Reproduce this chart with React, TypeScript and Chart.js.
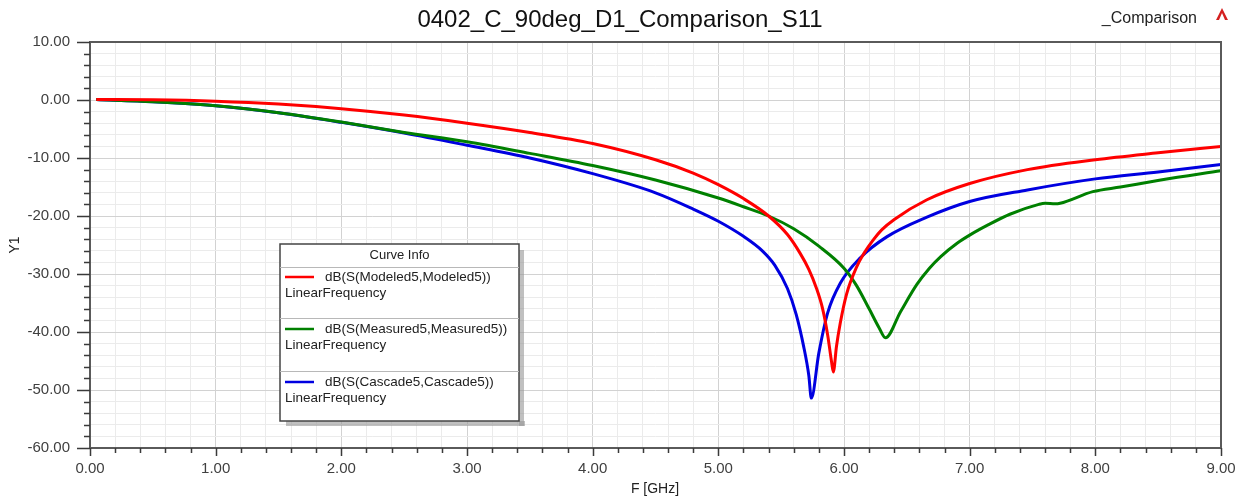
import React, { useEffect, useRef } from "react";
import { Chart, registerables } from "chart.js";

Chart.register(...registerables);

const chartTitle = "0402_C_90deg_D1_Comparison_S11";
const cornerLabel = "_Comparison";
const xAxisTitle = "F [GHz]";
const yAxisTitle = "Y1";
const legendTitle = "Curve Info";
const seriesNames = [
  "dB(S(Modeled5,Modeled5))",
  "dB(S(Measured5,Measured5))",
  "dB(S(Cascade5,Cascade5))",
];
const seriesSubtitle = "LinearFrequency";
const seriesColors = ["#ff0000", "#008000", "#0000e0"];

const modeledFreq = [0.05, 0.5, 1.0, 1.5, 2.0, 2.5, 3.0, 3.5, 4.0, 4.5, 4.8, 5.0, 5.2, 5.4, 5.55, 5.65, 5.72, 5.78, 5.83, 5.87, 5.9, 5.915, 5.94, 5.97, 6.02, 6.1, 6.16, 6.23, 6.3, 6.4, 6.66, 7.0, 7.46, 8.0, 8.5, 9.0];
const modeledDb = [0.1, 0.05, -0.2, -0.7, -1.5, -2.6, -4.0, -5.6, -7.5, -10.3, -12.6, -14.6, -17.0, -20.0, -23.2, -26.4, -29.2, -32.4, -36.0, -40.5, -45.0, -46.9, -42.5, -38.5, -33.5, -28.8, -26.4, -24.2, -22.4, -20.6, -17.2, -14.4, -12.0, -10.3, -9.1, -8.0];

const measuredFreq = [0.05, 0.5, 1.0, 1.5, 2.0, 2.5, 3.0, 3.5, 4.0, 4.5, 5.0, 5.2, 5.4, 5.6, 5.8, 6.0, 6.1, 6.2, 6.28, 6.33, 6.45, 6.58, 6.68, 6.77, 6.9, 7.0, 7.15, 7.32, 7.55, 7.6, 7.68, 7.72, 7.98, 8.2, 8.52, 9.0];
const measuredDb = [0.1, -0.3, -1.0, -2.2, -3.8, -5.6, -7.2, -9.2, -11.3, -13.8, -16.9, -18.4, -20.0, -22.2, -25.2, -29.0, -32.0, -36.0, -39.3, -41.0, -36.5, -31.8, -29.0, -27.0, -24.7, -23.3, -21.5, -19.7, -18.0, -17.8, -17.9, -17.8, -15.8, -15.0, -13.8, -12.2];

const cascadeFreq = [0.05, 0.5, 1.0, 1.5, 2.0, 2.5, 3.0, 3.5, 4.0, 4.5, 4.8, 5.0, 5.2, 5.35, 5.45, 5.55, 5.62, 5.68, 5.72, 5.74, 5.8, 5.87, 5.97, 6.13, 6.34, 6.66, 7.0, 7.46, 8.0, 8.5, 9.0];
const cascadeDb = [0.1, -0.3, -1.0, -2.2, -3.85, -5.7, -7.8, -10.0, -12.7, -16.0, -18.8, -20.9, -23.5, -26.0, -28.5, -32.5, -37.0, -42.6, -47.5, -51.4, -43.6, -36.7, -31.6, -27.2, -23.6, -20.2, -17.5, -15.5, -13.6, -12.4, -11.1];

const xMin = 0;
const xMax = 9;
const xStep = 0.2;
const yMin = -60;
const yMax = 10;
const yStep = 2;

const FONT = "'Liberation Sans', Arial, sans-serif";

function isMultiple(v: number, m: number) {
  const r = v / m;
  return Math.abs(r - Math.round(r)) < 1e-6;
}

function toPoints(xs: number[], ys: number[]) {
  return xs.map((x, i) => ({ x, y: ys[i] }));
}

const decorPlugin = {
  id: "decor",
  beforeDraw(chart: any) {
    const { ctx, width, height } = chart;
    ctx.save();
    ctx.fillStyle = "#ffffff";
    ctx.fillRect(0, 0, width, height);
    ctx.restore();
  },
  afterDraw(chart: any) {
    const { ctx, chartArea } = chart;
    const { left, right, top, bottom } = chartArea;
    const xs = chart.scales.x;
    const ys = chart.scales.y;
    ctx.save();

    // frame
    ctx.strokeStyle = "#5a5a5a";
    ctx.lineWidth = 2;
    ctx.strokeRect(left, top, right - left, bottom - top);

    // tick marks
    ctx.lineWidth = 1.5;
    ctx.strokeStyle = "#3a3a3a";
    ctx.beginPath();
    for (let v = xMin; v <= xMax + 1e-9; v += xStep) {
      const px = Math.round(xs.getPixelForValue(v)) + 0.5;
      const len = isMultiple(v, 1) ? 8 : 5;
      ctx.moveTo(px, bottom);
      ctx.lineTo(px, bottom + len);
    }
    for (let v = yMin; v <= yMax + 1e-9; v += yStep) {
      const py = Math.round(ys.getPixelForValue(v)) + 0.5;
      const len = isMultiple(v, 10) ? 13 : 6;
      ctx.moveTo(left, py);
      ctx.lineTo(left - len, py);
    }
    ctx.stroke();

    // title
    ctx.fillStyle = "#111111";
    ctx.font = `24px ${FONT}`;
    ctx.textAlign = "center";
    ctx.textBaseline = "alphabetic";
    ctx.fillText(chartTitle, 620, 27);

    ctx.font = `16px ${FONT}`;
    ctx.textAlign = "right";
    ctx.fillStyle = "#222222";
    ctx.fillText(cornerLabel, 1197, 23);

    // small logo
    ctx.fillStyle = "#d42020";
    ctx.beginPath();
    ctx.moveTo(1222, 8);
    ctx.lineTo(1216, 20);
    ctx.lineTo(1219, 20);
    ctx.lineTo(1222, 13);
    ctx.lineTo(1225, 20);
    ctx.lineTo(1228, 20);
    ctx.closePath();
    ctx.fill();

    // axis titles
    ctx.fillStyle = "#222222";
    ctx.font = `14px ${FONT}`;
    ctx.textAlign = "center";
    ctx.fillText(xAxisTitle, 655, 493);
    ctx.save();
    ctx.translate(19, 245);
    ctx.rotate(-Math.PI / 2);
    ctx.fillText(yAxisTitle, 0, 0);
    ctx.restore();

    // legend box
    const bx = 280, by = 244, bw = 239, bh = 177;
    ctx.fillStyle = "rgba(150,150,150,0.6)";
    ctx.fillRect(bx + 6, by + bh, bw, 5);
    ctx.fillRect(bx + bw, by + 6, 5, bh - 1);
    ctx.fillStyle = "#ffffff";
    ctx.fillRect(bx, by, bw, bh);
    ctx.strokeStyle = "#444444";
    ctx.lineWidth = 1.5;
    ctx.strokeRect(bx, by, bw, bh);

    ctx.fillStyle = "#222222";
    ctx.font = `13px ${FONT}`;
    ctx.textAlign = "center";
    ctx.textBaseline = "middle";
    ctx.fillText(legendTitle, bx + bw / 2, 255);

    ctx.strokeStyle = "#b8b8b8";
    ctx.lineWidth = 1;
    [267, 318, 371].forEach((yy) => {
      ctx.beginPath();
      ctx.moveTo(bx, yy + 0.5);
      ctx.lineTo(bx + bw, yy + 0.5);
      ctx.stroke();
    });

    const rowTops = [277, 329, 382];
    seriesNames.forEach((name, i) => {
      const yy = rowTops[i];
      ctx.strokeStyle = seriesColors[i];
      ctx.lineWidth = 2.5;
      ctx.beginPath();
      ctx.moveTo(285, yy);
      ctx.lineTo(314, yy);
      ctx.stroke();
      ctx.fillStyle = "#222222";
      ctx.font = `13.5px ${FONT}`;
      ctx.textAlign = "left";
      ctx.fillText(name, 325, yy);
      ctx.fillText(seriesSubtitle, 285, yy + 16);
    });

    ctx.restore();
  },
};

export default function App() {
  const canvasRef = useRef<HTMLCanvasElement | null>(null);

  useEffect(() => {
    if (!canvasRef.current) return;
    const gridColor = (major: number) => (c: any) =>
      c.tick && isMultiple(c.tick.value, major) ? "#d2d2d2" : "#ebebeb";

    const chart = new Chart(canvasRef.current, {
      type: "line",
      data: {
        datasets: [
          { label: seriesNames[0], data: toPoints(modeledFreq, modeledDb), borderColor: seriesColors[0] },
          { label: seriesNames[1], data: toPoints(measuredFreq, measuredDb), borderColor: seriesColors[1] },
          { label: seriesNames[2], data: toPoints(cascadeFreq, cascadeDb), borderColor: seriesColors[2] },
        ].map((d) => ({
          ...d,
          borderWidth: 3,
          pointRadius: 0,
          fill: false,
          cubicInterpolationMode: "monotone" as const,
        })),
      },
      options: {
        responsive: false,
        animation: false,
        events: [],
        layout: { padding: { left: 0, right: 22, top: 42, bottom: 0 } },
        plugins: {
          legend: { display: false },
          title: { display: false },
          tooltip: { enabled: false },
        },
        scales: {
          x: {
            type: "linear",
            min: xMin,
            max: xMax,
            afterFit(scale: any) {
              scale.height = 51;
              scale.paddingLeft = 0;
              scale.paddingRight = 0;
            },
            border: { display: false },
            grid: { color: gridColor(1), lineWidth: 1, drawTicks: false },
            ticks: {
              stepSize: xStep,
              autoSkip: false,
              maxRotation: 0,
              padding: 12,
              color: "#404040",
              font: { family: FONT, size: 15 },
              callback: (v: any) => (isMultiple(Number(v), 1) ? Number(v).toFixed(2) : ""),
            },
          },
          y: {
            type: "linear",
            min: yMin,
            max: yMax,
            afterFit(scale: any) {
              scale.width = 90;
              scale.paddingTop = 0;
              scale.paddingBottom = 0;
            },
            border: { display: false },
            grid: { color: gridColor(10), lineWidth: 1, drawTicks: false },
            ticks: {
              stepSize: yStep,
              autoSkip: false,
              padding: 20,
              color: "#404040",
              font: { family: FONT, size: 15 },
              callback: (v: any) => (isMultiple(Number(v), 10) ? Number(v).toFixed(2) : ""),
            },
          },
        },
      },
      plugins: [decorPlugin],
    });
    return () => chart.destroy();
  }, []);

  return (
    <div style={{ position: "absolute", left: 0, top: 0, width: 1243, height: 499, background: "#fff" }}>
      <canvas ref={canvasRef} width={1243} height={499} style={{ display: "block" }} />
    </div>
  );
}
